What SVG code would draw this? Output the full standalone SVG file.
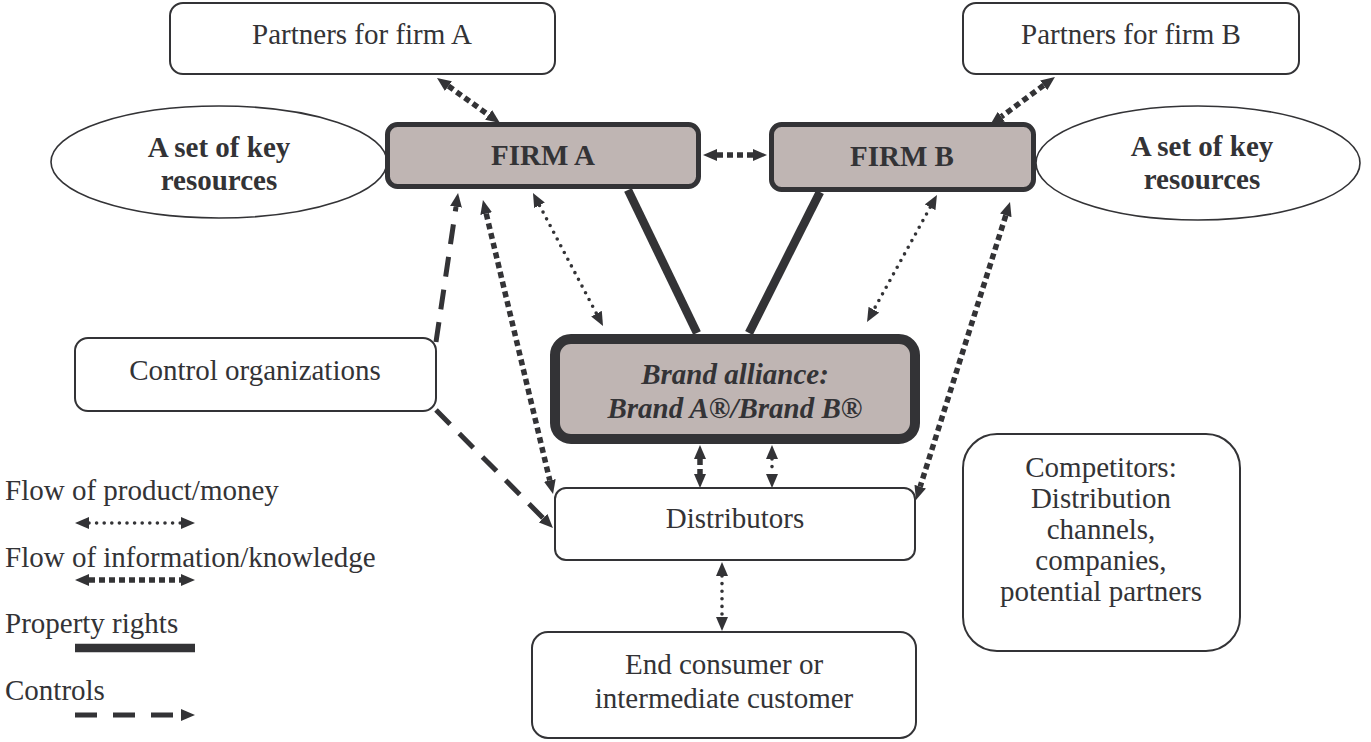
<svg xmlns="http://www.w3.org/2000/svg" width="1371" height="742" viewBox="0 0 1371 742">
<style>
text{font-family:"Liberation Serif","Times New Roman",serif;font-size:29px;fill:#333336;text-anchor:middle}
.b{font-weight:bold}
.bi{font-weight:bold;font-style:italic}
.lg{text-anchor:start}
.box{fill:#fff;stroke:#333336;stroke-width:2}
.firm{fill:#bfb5b3;stroke:#333336;stroke-width:5}
.brand{fill:#bfb5b3;stroke:#333336;stroke-width:10}
.ell{fill:#fff;stroke:#333336;stroke-width:1.6}
.info{fill:none;stroke:#333336;stroke-width:5.5;stroke-dasharray:6 4;marker-start:url(#ah);marker-end:url(#ah)}
.prod{fill:none;stroke:#333336;stroke-width:3.6;stroke-linecap:round;stroke-dasharray:0 7.6;marker-start:url(#ah);marker-end:url(#ah)}
.prop{fill:none;stroke:#333336;stroke-width:8.5}
.ctrl{fill:none;stroke:#333336;stroke-width:5;stroke-dasharray:20 13;marker-end:url(#ah)}
</style>
<defs>
<marker id="ah" markerUnits="userSpaceOnUse" viewBox="0 0 14 12" markerWidth="14" markerHeight="12" refX="0" refY="6" orient="auto-start-reverse">
<path d="M0,0 L14,6 L0,12 z" fill="#333336"/>
</marker>
</defs>

<g id="connectors">
<line class="info" x1="448.4" y1="86.1" x2="488.6" y2="114.9"/>
<line class="info" x1="717" y1="155" x2="753" y2="155"/>
<line class="info" x1="1043.7" y1="85.3" x2="1001.3" y2="116.7"/>
<line class="prop" x1="628" y1="190" x2="697" y2="333"/>
<line class="prop" x1="820" y1="192" x2="749" y2="333"/>
<line class="prod" x1="539.5" y1="205.4" x2="596.5" y2="313.6"/>
<line class="info" x1="486.2" y1="213.6" x2="549.8" y2="480.4"/>
<line class="ctrl" x1="436" y1="342" x2="456" y2="206.8"/>
<line class="ctrl" x1="436" y1="410" x2="543.1" y2="518.1"/>
<line class="prod" x1="930.2" y1="207.3" x2="873.8" y2="309.7"/>
<line class="info" x1="1005.8" y1="215.4" x2="920.2" y2="486.6"/>
<line class="info" x1="700" y1="459" x2="700" y2="474"/>
<line class="prod" x1="772" y1="459" x2="772" y2="474"/>
<line class="prod" x1="722" y1="576" x2="722" y2="617"/>
</g>

<g id="partnersA">
<rect class="box" x="170" y="3" width="385" height="71" rx="13"/>
<text x="362" y="44">Partners for firm A</text>
</g>
<g id="partnersB">
<rect class="box" x="963" y="3" width="336" height="71" rx="13"/>
<text x="1131" y="44">Partners for firm B</text>
</g>
<g id="resourcesA">
<ellipse class="ell" cx="219" cy="162" rx="168" ry="56"/>
<text class="b" x="219" y="157">A set of key</text>
<text class="b" x="219" y="190">resources</text>
</g>
<g id="resourcesB">
<ellipse class="ell" cx="1198" cy="163" rx="162" ry="57"/>
<text class="b" x="1202" y="156">A set of key</text>
<text class="b" x="1202" y="189">resources</text>
</g>
<g id="firmA">
<rect class="firm" x="387.5" y="124.5" width="311" height="62" rx="10"/>
<text class="b" x="543" y="165">FIRM A</text>
</g>
<g id="firmB">
<rect class="firm" x="771.5" y="124.5" width="262" height="65" rx="10"/>
<text class="b" x="902" y="166">FIRM B</text>
</g>
<g id="brand">
<rect class="brand" x="555" y="339" width="360" height="100" rx="16"/>
<text class="bi" x="735" y="384">Brand alliance:</text>
<text class="bi" x="735" y="418">Brand A®/Brand B®</text>
</g>
<g id="control">
<rect class="box" x="75" y="338" width="361" height="73" rx="13"/>
<text x="255" y="380">Control organizations</text>
</g>
<g id="distributors">
<rect class="box" x="555" y="488" width="360" height="72" rx="11"/>
<text x="735" y="528">Distributors</text>
</g>
<g id="endconsumer">
<rect class="box" x="532" y="632" width="384" height="106" rx="16"/>
<text x="724" y="674">End consumer or</text>
<text x="724" y="708">intermediate customer</text>
</g>
<g id="competitors">
<rect class="box" x="963" y="434" width="277" height="217" rx="34"/>
<text x="1101" y="477">Competitors:</text>
<text x="1101" y="508">Distribution</text>
<text x="1101" y="539">channels,</text>
<text x="1101" y="570">companies,</text>
<text x="1101" y="601">potential partners</text>
</g>

<g id="legend">
<text class="lg" x="5" y="500">Flow of product/money</text>
<line class="prod" x1="89" y1="523" x2="181" y2="523"/>
<text class="lg" x="5" y="567">Flow of information/knowledge</text>
<line class="info" x1="89" y1="580" x2="181" y2="580"/>
<text class="lg" x="5" y="633">Property rights</text>
<line class="prop" x1="75" y1="648" x2="195" y2="648"/>
<text class="lg" x="5" y="700">Controls</text>
<line fill="none" stroke="#333336" stroke-width="5" stroke-dasharray="22 16" marker-end="url(#ah)" x1="75" y1="715" x2="181" y2="715"/>
</g>
</svg>
